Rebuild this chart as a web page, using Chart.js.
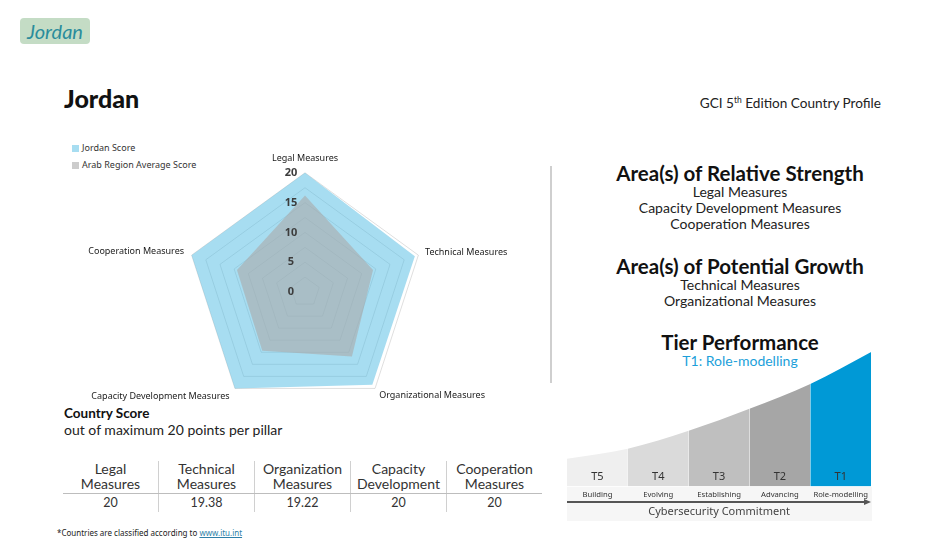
<!DOCTYPE html>
<html><head><meta charset="utf-8">
<script src="https://cdn.jsdelivr.net/npm/chart.js@4.4.1/dist/chart.umd.min.js"></script>
<style>
html,body{margin:0;padding:0;background:#fff;}
body{width:944px;height:559px;position:relative;overflow:hidden;font-family:'Lato','Noto Sans',sans-serif;color:#222;}
.abs{position:absolute;}
#tag{left:20px;top:18px;width:70px;height:26px;background:#c4dcc5;border-radius:4px;color:#2a8c9c;font-style:italic;font-size:20px;line-height:26px;text-align:center;}
#title{left:64px;top:83px;font-size:25px;line-height:30px;font-weight:900;color:#111;}
#gci{right:63px;top:92px;font-size:13.6px;line-height:16px;color:#222;}
#gci sup{font-size:8.5px;vertical-align:5px;}
#legend{left:72px;top:142px;font-family:'Noto Sans',sans-serif;font-size:9px;color:#333;}
#legend .it{height:17px;line-height:12px;display:flex;align-items:flex-start;}
#legend .sw{width:7px;height:7px;margin-top:3px;margin-right:3px;}
#radarBox{left:55px;top:151px;width:501px;height:268px;}
#sep{left:550px;top:166px;width:2px;height:217px;background:#cfcfcf;}
.rp{left:590px;width:300px;text-align:center;}
.rh{font-weight:700;font-size:20.5px;line-height:22px;color:#111;}
.ri{font-size:14px;line-height:16px;color:#222;}
#cs{left:64px;top:405px;font-weight:700;font-size:13.5px;line-height:16px;color:#111;}
#cs2{left:64px;top:422px;font-size:14px;line-height:16px;color:#222;}
#tbl{left:63px;top:461px;border-collapse:collapse;font-size:14px;color:#333;}
#tbl td{width:95px;padding:0;text-align:center;}
#tbl tr.h td{line-height:15px;padding-bottom:2px;border-bottom:1.5px solid #bdbdbd;}
#tbl tr.v td{line-height:17px;font-size:12.5px;padding-bottom:1px;}
#tbl td+td{border-left:1.5px solid #d0d0d0;}
#strip{left:567px;top:487px;width:305px;height:34px;background:#f6f6f6;}
#arrow{left:567px;top:501px;width:298px;height:1.5px;background:#555;}
#arrowHead{left:864px;top:498.5px;width:0;height:0;border-top:3px solid transparent;border-bottom:3px solid transparent;border-left:7px solid #555;}
#tierBox{left:567px;top:352px;width:305px;height:168px;}
#foot{left:57px;top:528px;font-family:'Noto Sans',sans-serif;font-size:8px;line-height:10px;color:#222;}
#foot a{color:#2e7fa7;text-decoration:underline;}
</style></head>
<body>
<div id="tag" class="abs">Jordan</div>
<div id="title" class="abs">Jordan</div>
<div id="gci" class="abs">GCI 5<sup>th</sup> Edition Country Profile</div>
<div id="legend" class="abs"></div>
<div id="sep" class="abs"></div>
<div id="rp1" class="abs rp rh" style="top:162px">Area(s) of Relative Strength</div>
<div id="rp1i" class="abs rp ri" style="top:184px"></div>
<div id="rp2" class="abs rp rh" style="top:255px">Area(s) of Potential Growth</div>
<div id="rp2i" class="abs rp ri" style="top:277px"></div>
<div id="rp3" class="abs rp rh" style="top:331px">Tier Performance</div>
<div id="rp3i" class="abs rp ri" style="top:353px;color:#1c9fda">T1: Role-modelling</div>
<div id="cs" class="abs">Country Score</div>
<div id="cs2" class="abs">out of maximum 20 points per pillar</div>
<table id="tbl" class="abs"></table>
<div id="strip" class="abs"></div>
<div id="tierBox" class="abs"><canvas id="tier"></canvas></div>
<div id="arrow" class="abs"></div>
<div id="arrowHead" class="abs"></div>
<div id="radarBox" class="abs"><canvas id="radar"></canvas></div>
<div id="foot" class="abs">*Countries are classified according to <a>www.itu.int</a></div>
<script>
// ---- data ----
const pillars = ['Legal Measures','Technical Measures','Organizational Measures','Capacity Development Measures','Cooperation Measures'];
const tableHeaders = ['Legal Measures','Technical Measures','Organization Measures','Capacity Development','Cooperation Measures'];
const seriesNames = ['Jordan Score','Arab Region Average Score'];
const jordanScores = [20, 19.38, 19.22, 20, 20];
const arabAverage = [16.2, 12.0, 13.4, 12.2, 12.0];
const radarTickLabels = [0, 5, 10, 15, 20];
const strengths = ['Legal Measures','Capacity Development Measures','Cooperation Measures'];
const growth = ['Technical Measures','Organizational Measures'];
const tierCodes = ['T5','T4','T3','T2','T1'];
const tierNames = ['Building','Evolving','Establishing','Advancing','Role-modelling'];
const tierCurve = [28, 38, 56, 78, 103, 135];

// ---- styles ----
const seriesColors = ['rgba(80,188,228,0.5)','rgba(170,170,170,0.6)'];
const tierColors = ['#efefef','#dadada','#bfbfbf','#a6a6a6','#0099d6'];

// legend & text
document.getElementById('legend').innerHTML = seriesNames.map((n,i)=>
  `<div class="it"><span class="sw" style="background:${seriesColors[i]}"></span>${n}</div>`).join('');
document.getElementById('rp1i').innerHTML = strengths.join('<br>');
document.getElementById('rp2i').innerHTML = growth.join('<br>');
const splitHead = h => { const k = h.indexOf(' '); return h.slice(0,k)+'<br>'+h.slice(k+1); };
document.getElementById('tbl').innerHTML =
  '<tr class="h">' + tableHeaders.map(h=>`<td>${splitHead(h)}</td>`).join('') + '</tr>' +
  '<tr class="v">' + jordanScores.map(v=>`<td>${v}</td>`).join('') + '</tr>';

// ---- radar ----
const radarTicks = {
  id: 'radarTicks',
  afterDatasetsDraw(chart) {
    const s = chart.scales.r, ctx = chart.ctx;
    ctx.save();
    ctx.font = 'bold 11px "Noto Sans", sans-serif';
    ctx.fillStyle = '#3c3c3c';
    ctx.textAlign = 'center';
    ctx.textBaseline = 'middle';
    s.ticks.forEach(t => {
      if (radarTickLabels.includes(t.value)) {
        const p = s.getPointPositionForValue(0, t.value);
        ctx.fillText(String(t.value), p.x - 14, p.y);
      }
    });
    ctx.restore();
  }
};
const labelPad = [13, 7, 7, 9, 8];
new Chart(document.getElementById('radar'), {
  type: 'radar',
  data: {
    labels: pillars,
    datasets: [
      { label: seriesNames[0], data: jordanScores, backgroundColor: seriesColors[0], borderWidth: 0, pointRadius: 0, fill: true, order: 1 },
      { label: seriesNames[1], data: arabAverage, backgroundColor: seriesColors[1], borderWidth: 0, pointRadius: 0, fill: true, order: 0 }
    ]
  },
  options: {
    responsive: true, maintainAspectRatio: false, animation: false,
    layout: { padding: 0 },
    plugins: { legend: { display: false }, tooltip: { enabled: false } },
    scales: {
      r: {
        min: 0, max: 20,
        ticks: { stepSize: 2.5, display: false },
        grid: { color: 'rgba(0,0,0,0.13)', lineWidth: 1, circular: false },
        angleLines: { display: false },
        pointLabels: {
          color: '#1a1a1a',
          font: { family: '"Noto Sans", sans-serif', size: 9, lineHeight: 0.2 },
          padding: ctx => labelPad[ctx.index]
        }
      }
    }
  },
  plugins: [radarTicks]
});

// ---- tier graphic ----
const tierCenters = tierCodes.map((_, i) => i + 0.5);
const tierText = {
  id: 'tierText',
  afterDatasetsDraw(chart) {
    const x = chart.scales.x, y = chart.scales.y, ctx = chart.ctx;
    ctx.save();
    ctx.font = '11px "Noto Sans", sans-serif';
    ctx.fillStyle = '#333';
    ctx.textAlign = 'center';
    ctx.textBaseline = 'middle';
    tierCodes.forEach((c, i) => ctx.fillText(c, x.getPixelForValue(tierCenters[i]), y.getPixelForValue(10)));
    ctx.restore();
  }
};
new Chart(document.getElementById('tier'), {
  type: 'line',
  data: {
    datasets: [{
      data: tierCurve.map((v, i) => ({ x: i, y: v })),
      fill: 'origin',
      borderWidth: 0, borderColor: 'rgba(0,0,0,0)', pointRadius: 0,
      cubicInterpolationMode: 'monotone',
      backgroundColor: tierColors[0],
      segment: { backgroundColor: ctx => tierColors[ctx.p0DataIndex] }
    }]
  },
  options: {
    responsive: true, maintainAspectRatio: false, animation: false,
    layout: { padding: 0 },
    plugins: { legend: { display: false }, tooltip: { enabled: false } },
    scales: {
      x: {
        type: 'linear', min: 0, max: tierCodes.length,
        afterBuildTicks: s => { s.ticks = tierCenters.map(v => ({ value: v })); },
        ticks: { callback: (v, i) => tierNames[i], color: '#333', padding: 4, maxRotation: 0, autoSkip: false,
                 font: { family: '"Noto Sans", sans-serif', size: 7.7 } },
        grid: { display: false, drawTicks: false },
        border: { display: false },
        title: { display: true, text: 'Cybersecurity Commitment', color: '#444', padding: { top: 1, bottom: 2 },
                 font: { family: '"Noto Sans", sans-serif', size: 11 } }
      },
      y: { display: false, min: 0, max: 135 }
    }
  },
  plugins: [tierText]
});
</script>
</body></html>
